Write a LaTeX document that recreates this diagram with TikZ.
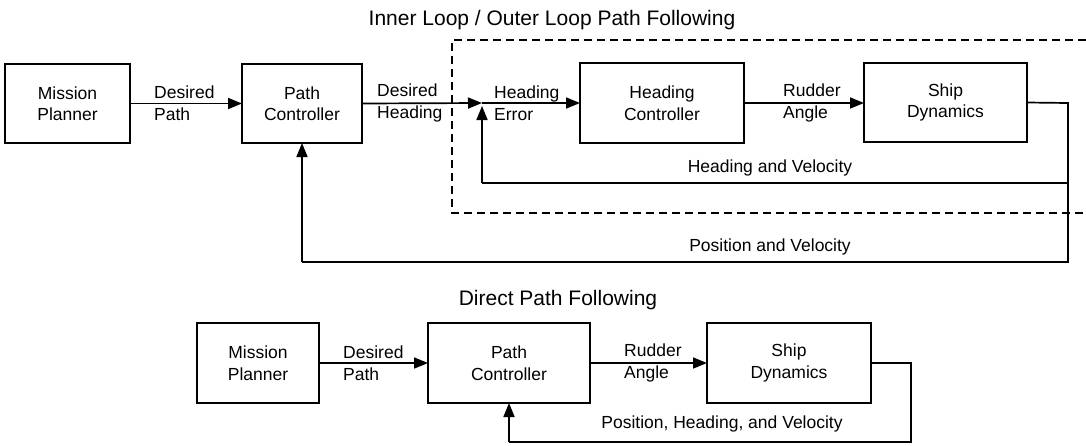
\documentclass[tikz,border=0pt]{standalone}
\usepackage{fontspec}
\setmainfont{Liberation Sans}
\usetikzlibrary{arrows.meta}
\begin{document}
\begin{tikzpicture}[x=1pt,y=-1pt,
  font=\fontsize{17.5}{21.5}\selectfont,
  blk/.style={draw, line width=1.7pt, rectangle, inner sep=0pt, outer sep=0pt, align=center},
  lbl/.style={anchor=west, align=left, inner sep=0pt},
  wire/.style={line width=1.7pt},
  arr/.style={wire, -{Triangle[length=14pt,width=11pt]}},
  ttl/.style={font=\fontsize{21}{25}\selectfont}
]
\useasboundingbox (0,0) rectangle (1086,445);

% ---------- Inner loop / outer loop ----------
\node[ttl] (t1) at (552,20) {Inner Loop / Outer Loop Path Following};

\node[blk, minimum width=125pt, minimum height=79pt] (mp1) at (67.5,103.5) {Mission\\Planner};
\node[blk, minimum width=120pt, minimum height=79pt] (pc1) at (302,103.5) {Path\\Controller};
\node[blk, minimum width=164pt, minimum height=80pt] (hc1) at (662,103) {Heading\\Controller};
\node[blk, minimum width=163pt, minimum height=79pt] (sd1) at (945.5,102.5) {Ship\\Dynamics};

\coordinate (sum) at (482,103);
\coordinate (sumb) at (482,106);
\coordinate (r1) at (1068,103);
\coordinate (r2) at (1068,183);
\coordinate (r3) at (1068,262);
\coordinate (f1) at (482,183);
\coordinate (f2) at (302,262);

\draw[arr] (mp1.east |- pc1.west) -- (pc1.west);
\draw[arr] (pc1.east) -- (sum);
\draw[arr] (sum) -- (hc1.west |- sum);
\draw[arr] (hc1.east |- sum) -- (sd1.west |- sum);
\draw[wire] (sd1.east) -- (r1) -- (r3) -- (f2);
\draw[arr] (f2) -- (pc1.south);
\draw[wire] (r2) -- (f1);
\draw[arr] (f1) -- (sumb);

\node[lbl] (l1) at (154,103) {Desired\\Path};
\node[lbl] (l2) at (377,103) {Desired\\Heading};
\node[lbl] (l3) at (494,103) {Heading\\Error};
\node[lbl] (l4) at (783,103) {Rudder\\Angle};
\node (l5) at (770,168) {Heading and Velocity};
\node (l6) at (770,247) {Position and Velocity};

\draw[line width=1.7pt, dash pattern=on 8pt off 5pt] (1086,40) -- (452,40) -- (452,213) -- (1086,213);

% ---------- Direct path following ----------
\node[ttl] (t2) at (558,300) {Direct Path Following};

\node[blk, minimum width=122pt, minimum height=80pt] (mp2) at (258,363) {Mission\\Planner};
\node[blk, minimum width=162pt, minimum height=80pt] (pc2) at (509,363) {Path\\Controller};
\node[blk, minimum width=164pt, minimum height=80pt] (sd2) at (789,363) {Ship\\Dynamics};

\coordinate (s1) at (911,363);
\coordinate (s2) at (911,442);
\coordinate (s3) at (509,442);

\draw[arr] (mp2.east) -- (pc2.west);
\draw[arr] (pc2.east) -- (sd2.west);
\draw[wire] (sd2.east) -- (s1) -- (s2) -- (s3);
\draw[arr] (s3) -- (pc2.south);

\node[lbl] (m1) at (343,363) {Desired\\Path};
\node[lbl] (m2) at (624,363) {Rudder\\Angle};
\node (m3) at (722,424) {Position, Heading, and Velocity};
\end{tikzpicture}
\end{document}
